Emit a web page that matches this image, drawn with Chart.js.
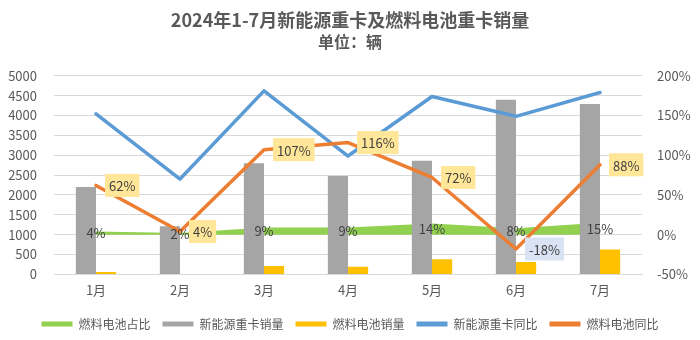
<!DOCTYPE html>
<html>
<head>
<meta charset="utf-8">
<script src="https://cdn.jsdelivr.net/npm/chart.js@4/dist/chart.umd.min.js"></script>
<style>
    html, body { margin: 0; padding: 0; background: #ffffff; }
    #chart_wrap { width: 700px; height: 340px; }
</style>
</head>
<body>
<div id="chart_wrap"><canvas id="chart_sales"></canvas></div>
<script>
'use strict';

/******************************************************************************************
DATA
******************************************************************************************/

var months = ['1月', '2月', '3月', '4月', '5月', '6月', '7月'];
var fc_share = [4, 2, 9, 9, 14, 8, 15];                       // 燃料电池占比 (%)
var nev_sales = [2200, 1210, 2800, 2480, 2860, 4400, 4290];   // 新能源重卡销量
var fc_sales = [60, 10, 210, 190, 380, 310, 625];             // 燃料电池销量
var nev_yoy = [152, 70, 181, 99, 174, 149, 179];              // 新能源重卡同比 (%)
var fc_yoy = [62, 4, 107, 116, 72, -18, 88];                  // 燃料电池同比 (%)

var series_names = ['燃料电池占比', '新能源重卡销量', '燃料电池销量', '新能源重卡同比', '燃料电池同比'];
var series_colors = ['#92D050', '#A5A5A5', '#FFC000', '#5B9BD5', '#ED7D31'];

var font_family = '"Noto Sans CJK SC", "Noto Sans", sans-serif';
var text_color = '#595959';




/******************************************************************************************
LABELS
******************************************************************************************/

// draws the % labels on the area and the boxed labels next to the orange line
var value_labels = {
    id: 'value_labels',
    afterDatasetsDraw: function(chart) {
        var ctx = chart.ctx;
        var y1 = chart.scales.y1;
        var base = y1.getPixelForValue(0);

        ctx.save();
        ctx.font = '13px ' + font_family;
        ctx.textBaseline = 'middle';

        // share labels, centered inside the green band
        ctx.fillStyle = '#404040';
        ctx.textAlign = 'center';
        chart.getDatasetMeta(0).data.forEach(function(pt, i) {
            ctx.fillText(fc_share[i] + '%', pt.x, (pt.y + base) / 2);
        });

        // yoy labels in small filled boxes right of the point
        ctx.textAlign = 'left';
        chart.getDatasetMeta(4).data.forEach(function(pt, i) {
            var txt = fc_yoy[i] + '%';
            var w = ctx.measureText(txt).width + 8;
            var h = 23;
            var bx = pt.x + 9;
            ctx.fillStyle = fc_yoy[i] < 0 ? '#DAE3F3' : '#FFE699';
            ctx.fillRect(bx, pt.y - h / 2, w, h);
            ctx.fillStyle = '#404040';
            ctx.fillText(txt, bx + 4, pt.y + 1);
        });
        ctx.restore();
    }
};




/******************************************************************************************
CHART
******************************************************************************************/

var ctx = document.getElementById('chart_sales').getContext('2d');
var sales_chart = new Chart(ctx, {
    type: 'bar',
    data: {
        labels: months,
        datasets: [{
            type: 'line',
            label: series_names[0],
            data: fc_share,
            yAxisID: 'y1',
            backgroundColor: series_colors[0],
            borderColor: series_colors[0],
            borderWidth: 0,
            pointRadius: 0,
            fill: 'origin',
            order: 3
        }, {
            label: series_names[1],
            data: nev_sales,
            yAxisID: 'y',
            backgroundColor: series_colors[1],
            categoryPercentage: 0.48,
            barPercentage: 1.0,
            order: 2
        }, {
            label: series_names[2],
            data: fc_sales,
            yAxisID: 'y',
            backgroundColor: series_colors[2],
            categoryPercentage: 0.48,
            barPercentage: 1.0,
            order: 2
        }, {
            type: 'line',
            label: series_names[3],
            data: nev_yoy,
            yAxisID: 'y1',
            backgroundColor: series_colors[3],
            borderColor: series_colors[3],
            borderWidth: 3.5,
            borderJoinStyle: 'round',
            borderCapStyle: 'round',
            pointRadius: 0,
            fill: false,
            order: 1
        }, {
            type: 'line',
            label: series_names[4],
            data: fc_yoy,
            yAxisID: 'y1',
            backgroundColor: series_colors[4],
            borderColor: series_colors[4],
            borderWidth: 3.5,
            borderJoinStyle: 'round',
            borderCapStyle: 'round',
            pointRadius: 0,
            fill: false,
            order: 0
        }]
    },
    options: {
        responsive: true,
        maintainAspectRatio: false,
        animation: false,
        layout: {
            padding: { left: 0, right: 0, top: 0, bottom: 0 }
        },
        scales: {
            x: {
                grid: { display: false, drawTicks: false },
                border: { display: true, color: '#D9D9D9' },
                ticks: { color: text_color, padding: 8, font: { size: 13, family: font_family } }
            },
            y: {
                position: 'left',
                min: 0,
                max: 5000,
                grid: { color: '#D9D9D9', drawTicks: false },
                border: { display: false },
                ticks: {
                    stepSize: 500,
                    color: text_color,
                    padding: 17,
                    font: { size: 13, family: font_family },
                    // plain numbers, no thousands separator
                    callback: function(value) { return String(value); }
                },
                afterFit: function(scale) { scale.width = 54; }
            },
            y1: {
                position: 'right',
                min: -50,
                max: 200,
                grid: { drawOnChartArea: false, drawTicks: false },
                border: { display: false },
                ticks: {
                    stepSize: 50,
                    color: text_color,
                    padding: 15,
                    font: { size: 13, family: font_family },
                    // append unit to scale
                    callback: function(value) { return value + '%'; }
                },
                afterFit: function(scale) { scale.width = 58; }
            }
        },
        plugins: {
            title: {
                display: true,
                text: '2024年1-7月新能源重卡及燃料电池重卡销量',
                color: text_color,
                font: { size: 18, weight: 'bold', family: font_family },
                padding: { top: 9, bottom: 0 }
            },
            subtitle: {
                display: true,
                text: '单位：辆',
                color: text_color,
                font: { size: 16, weight: 'bold', family: font_family },
                padding: { top: 2, bottom: 24 }
            },
            legend: {
                position: 'bottom',
                labels: {
                    boxWidth: 31,
                    boxHeight: 5,
                    padding: 12,
                    color: text_color,
                    font: { size: 12, family: font_family },
                    sort: function(a, b) { return a.datasetIndex - b.datasetIndex; },
                    generateLabels: function(chart) {
                        var items = Chart.defaults.plugins.legend.labels.generateLabels(chart);
                        items.forEach(function(item) {
                            item.fillStyle = series_colors[item.datasetIndex];
                            item.strokeStyle = series_colors[item.datasetIndex];
                            item.lineWidth = 0;
                        });
                        return items;
                    }
                }
            },
            tooltip: { enabled: false }
        }
    },
    plugins: [value_labels]
});
</script>
</body>
</html>
